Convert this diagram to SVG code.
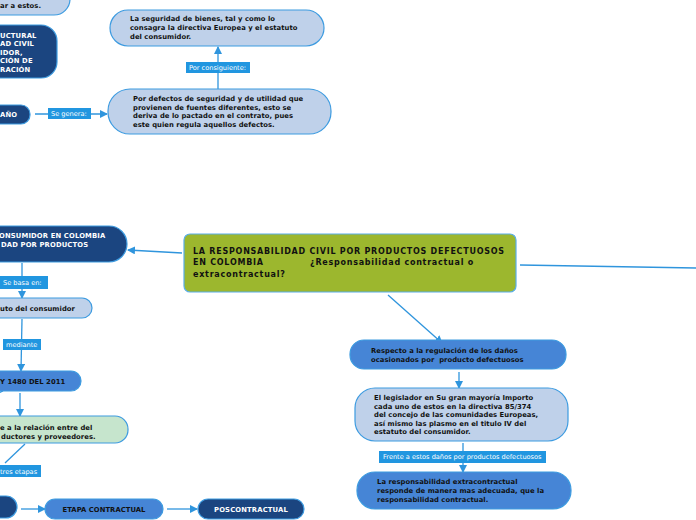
<svg xmlns="http://www.w3.org/2000/svg" width="696" height="520" viewBox="0 0 696 520">
<defs>
<marker id="ah" markerWidth="8" markerHeight="8" refX="7" refY="4" orient="auto" markerUnits="userSpaceOnUse">
<path d="M0,0 L8,4 L0,8 Z" fill="#2f95dd"/>
</marker>
<style>
.c{stroke:#2f95dd;stroke-width:1.3;fill:none}
.ca{stroke:#2f95dd;stroke-width:1.3;fill:none;marker-end:url(#ah)}
.dk{fill:#1b4580;stroke:#3d9be0;stroke-width:1.2}
.md{fill:#4685d6;stroke:#3d9be0;stroke-width:1.2}
.lt{fill:#bfd1ea;stroke:#3d9be0;stroke-width:1.2}
.lg{fill:#c6e5cd;stroke:#3d9be0;stroke-width:1.2}
.gr{fill:#9cb72e;stroke:#5aaee6;stroke-width:1.2}
.t{font-family:"DejaVu Sans",Verdana,sans-serif;font-weight:bold;font-size:6.8px;fill:#111;letter-spacing:0.05px}
.tw{font-family:"DejaVu Sans",Verdana,sans-serif;font-weight:bold;font-size:6.8px;fill:#fff;letter-spacing:0.15px}
.tc{font-family:"DejaVu Sans",Verdana,sans-serif;font-weight:bold;font-size:8px;fill:#111;letter-spacing:0.75px}
.lb{fill:#2196e0}
.lt2{font-family:"DejaVu Sans",Verdana,sans-serif;font-size:6.6px;fill:#fff}
</style>
</defs>
<rect width="696" height="520" fill="#fff"/>

<g id="connectors">
<line class="ca" x1="35" y1="114" x2="107" y2="114"/>
<line class="ca" x1="218" y1="89" x2="218" y2="47"/>
<line class="ca" x1="182" y1="253" x2="128" y2="250"/>
<line class="ca" x1="22" y1="263" x2="22" y2="298"/>
<line class="ca" x1="22" y1="319" x2="21" y2="371"/>
<line class="ca" x1="20" y1="393" x2="20" y2="416"/>
<line class="c" x1="25" y1="444" x2="5" y2="463"/>
<line class="c" x1="-2" y1="393" x2="3" y2="391"/>
<line class="ca" x1="21" y1="509" x2="45" y2="509"/>
<line class="ca" x1="167" y1="509" x2="197" y2="509"/>
<line class="c" x1="520" y1="265" x2="696" y2="268"/>
<line class="ca" x1="388" y1="295" x2="442" y2="343"/>
<line class="ca" x1="459" y1="372" x2="459" y2="388"/>
<line class="ca" x1="463" y1="443" x2="463" y2="472"/>
<rect class="lb" x="48" y="108" width="43" height="11"/>
<text class="lt2" x="51" y="116">Se genera:</text>
<rect class="lb" x="186" y="62" width="64" height="11"/>
<text class="lt2" x="189" y="70">Por consiguiente:</text>
<rect class="lb" x="0" y="276" width="48" height="13"/>
<text class="lt2" x="3" y="285">Se basa en:</text>
<rect class="lb" x="3" y="339" width="38" height="11"/>
<text class="lt2" x="6" y="347">mediante</text>
<rect class="lb" x="-2" y="465" width="43" height="12"/>
<text class="lt2" x="0" y="474">tres etapas</text>
<rect class="lb" x="379" y="451" width="167" height="12"/>
<text class="lt2" x="383" y="459">Frente a estos daños por productos defectuosos</text>
</g>

<g id="nA">
<rect class="lt" x="-30" y="-20" width="100" height="35" rx="16"/>
<text class="t" x="0" y="8">ar a estos.</text>
</g>

<g id="nB">
<rect class="dk" x="-30" y="25" width="87" height="53" rx="16"/>
<text class="tw" x="0" y="38">UCTURAL</text>
<text class="tw" x="0" y="46">AD CIVIL</text>
<text class="tw" x="0" y="55">IDOR,</text>
<text class="tw" x="0" y="63">CIÓN DE</text>
<text class="tw" x="0" y="72">RACIÓN</text>
</g>

<g id="nC">
<rect class="dk" x="-20" y="105" width="50" height="19" rx="9"/>
<text class="tw" x="0" y="117">AÑO</text>
</g>

<g id="nD">
<rect class="lt" x="108" y="89" width="223" height="45" rx="22"/>
<text class="t" x="133" y="101">Por defectos de seguridad y de utilidad que</text>
<text class="t" x="133" y="110">provienen de fuentes diferentes, esto se</text>
<text class="t" x="133" y="118">deriva de lo pactado en el contrato, pues</text>
<text class="t" x="133" y="127">este quien regula aquellos defectos.</text>
</g>

<g id="nE">
<rect class="lt" x="110" y="10" width="214" height="36" rx="18"/>
<text class="t" x="130" y="21">La seguridad de bienes, tal y como lo</text>
<text class="t" x="130" y="30">consagra la directiva Europea y el estatuto</text>
<text class="t" x="130" y="39">del consumidor.</text>
</g>

<g id="nCentral">
<rect class="gr" x="184" y="234" width="332" height="58" rx="6"/>
<text class="tc" x="193" y="254">LA RESPONSABILIDAD CIVIL POR PRODUCTOS DEFECTUOSOS</text>
<text class="tc" x="193" y="265">EN COLOMBIA</text>
<text class="tc" x="310" y="265">¿Responsabilidad contractual o</text>
<text class="tc" x="193" y="277">extracontractual?</text>
</g>

<g id="nF">
<rect class="dk" x="-30" y="226" width="157" height="36" rx="18"/>
<text class="tw" x="-1" y="238">ONSUMIDOR EN COLOMBIA</text>
<text class="tw" x="1" y="247">DAD POR PRODUCTOS</text>
</g>

<g id="nG">
<rect class="lt" x="-30" y="298" width="122" height="20" rx="10"/>
<text class="t" x="0" y="311">uto del consumidor</text>
</g>

<g id="nH">
<rect class="md" x="-30" y="371" width="111" height="20" rx="10"/>
<text class="t" x="0" y="384">Y 1480 DEL 2011</text>
</g>

<g id="nI">
<rect class="lg" x="-30" y="416" width="158" height="27" rx="13"/>
<text class="t" x="0" y="430">e a la relación entre del</text>
<text class="t" x="1" y="439">ductores y proveedores.</text>
</g>

<g id="nJ">
<rect class="dk" x="-30" y="496" width="47" height="22" rx="11"/>
</g>

<g id="nK">
<rect class="md" x="45" y="499" width="118" height="20" rx="10"/>
<text class="t" x="104" y="512" text-anchor="middle">ETAPA CONTRACTUAL</text>
</g>

<g id="nL">
<rect class="dk" x="198" y="499" width="106" height="20" rx="10"/>
<text class="tw" x="251" y="512" text-anchor="middle">POSCONTRACTUAL</text>
</g>

<g id="nM">
<rect class="md" x="350" y="340" width="216" height="29" rx="14"/>
<text class="t" x="371" y="353">Respecto a la regulación de los daños</text>
<text class="t" x="371" y="362" xml:space="preserve">ocasionados por  producto defectuosos</text>
</g>

<g id="nN">
<rect class="lt" x="355" y="388" width="213" height="53" rx="20"/>
<text class="t" x="374" y="400">El legislador en Su gran mayoría Importo</text>
<text class="t" x="374" y="409">cada uno de estos en la directiva 85/374</text>
<text class="t" x="374" y="417">del concejo de las comunidades Europeas,</text>
<text class="t" x="374" y="426">así mismo las plasmo en el titulo IV del</text>
<text class="t" x="374" y="434">estatuto del consumidor.</text>
</g>

<g id="nO">
<rect class="md" x="357" y="472" width="214" height="37" rx="18"/>
<text class="t" x="377" y="484">La responsabilidad extracontractual</text>
<text class="t" x="377" y="493">responde de manera mas adecuada, que la</text>
<text class="t" x="377" y="502">responsabilidad contractual.</text>
</g>
</svg>
